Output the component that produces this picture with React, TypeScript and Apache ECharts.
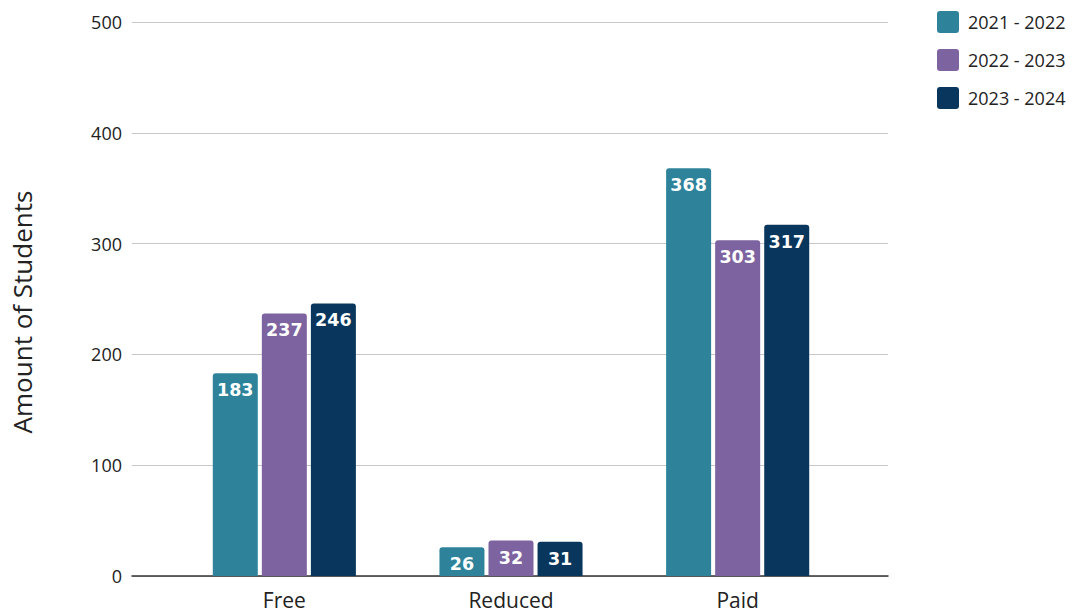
import React, { useEffect, useRef } from "react";
import * as echarts from "echarts";

const categories = ["Free", "Reduced", "Paid"];
const seriesNames = ["2021 - 2022", "2022 - 2023", "2023 - 2024"];
const values2122 = [183, 26, 368];
const values2223 = [237, 32, 303];
const values2324 = [246, 31, 317];
const colors = ["#2E839B", "#7D63A0", "#08365C"];
const yMin = 0;
const yMax = 500;
const yInterval = 100;

const legendIcon =
  "path://M3,0 H19 A3,3 0 0 1 22,3 V19 A3,3 0 0 1 19,22 H3 A3,3 0 0 1 0,19 V3 A3,3 0 0 1 3,0 Z";

export default function App() {
  const ref = useRef<HTMLDivElement>(null);
  useEffect(() => {
    if (!ref.current) return;
    const chart = echarts.init(ref.current, null, { renderer: "svg" });
    const data = [values2122, values2223, values2324];
    const series = seriesNames.map((name, i) => ({
      name,
      type: "bar",
      xAxisIndex: 1,
      yAxisIndex: 1,
      data: data[i],
      barWidth: 45,
      barGap: "9%",
      itemStyle: { color: colors[i], borderRadius: [3, 3, 0, 0] },
      label: {
        show: true,
        position: "insideTop",
        distance: 8,
        color: "#ffffff",
        fontFamily: "DejaVu Sans",
        fontWeight: "bold",
        fontSize: 17.5,
      },
    }));
    chart.setOption({
      animation: false,
      textStyle: { fontFamily: "Open Sans" },
      legend: {
        orient: "vertical",
        left: 932,
        top: 6,
        itemWidth: 22,
        itemHeight: 22,
        itemGap: 16,
        icon: legendIcon,
        textStyle: { fontSize: 18, color: "#222", fontFamily: "Open Sans", padding: [0, 0, 0, 4] },
        data: seriesNames,
      },
      grid: [
        { left: 132, right: 190, top: 22, bottom: 37 },
        { left: 171, right: 227, top: 22, bottom: 37 },
      ],
      xAxis: [
        {
          gridIndex: 0,
          type: "category",
          data: [""],
          axisLine: { show: true, lineStyle: { color: "#333", width: 1.5 } },
          axisTick: { show: false },
          axisLabel: { show: false },
        },
        {
          gridIndex: 1,
          type: "category",
          data: categories,
          axisLine: { show: false },
          axisTick: { show: false },
          axisLabel: { fontSize: 21, color: "#222", margin: 13, fontFamily: "Open Sans" },
        },
      ],
      yAxis: [
        {
          gridIndex: 0,
          type: "value",
          min: yMin,
          max: yMax,
          interval: yInterval,
          axisLine: { show: false },
          axisTick: { show: false },
          axisLabel: { fontSize: 18, color: "#222", margin: 10, fontFamily: "Open Sans" },
          splitLine: { lineStyle: { color: "#c8c8c8", width: 1 } },
        },
        {
          gridIndex: 1,
          type: "value",
          min: yMin,
          max: yMax,
          interval: yInterval,
          axisLine: { show: false },
          axisTick: { show: false },
          axisLabel: { show: false },
          splitLine: { show: false },
        },
      ],
      graphic: [
        {
          type: "text",
          x: 22,
          y: 312,
          rotation: Math.PI / 2,
          style: {
            text: "Amount of Students",
            fontSize: 26,
            fontFamily: "Open Sans",
            fill: "#222",
            align: "center",
            verticalAlign: "middle",
          },
        },
      ],
      series,
    });
    return () => chart.dispose();
  }, []);
  return <div ref={ref} style={{ width: 1078, height: 613, position: "absolute", left: 0, top: 0 }} />;
}
